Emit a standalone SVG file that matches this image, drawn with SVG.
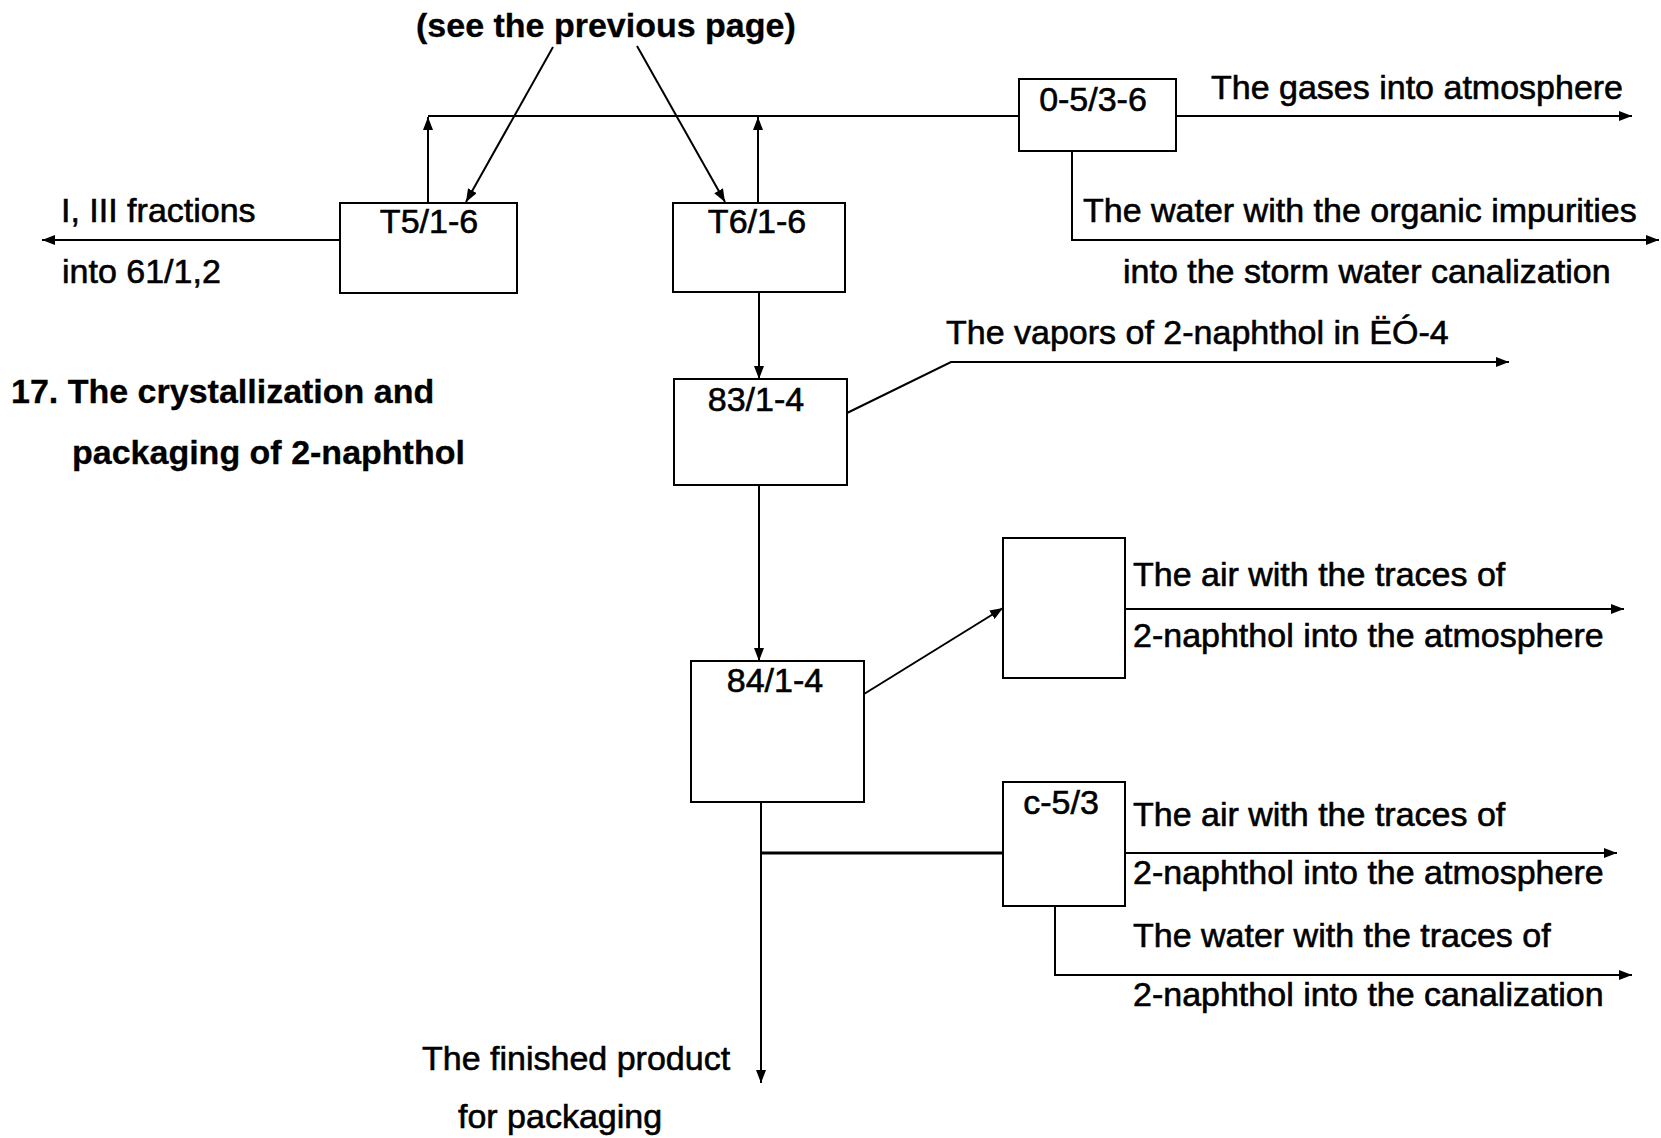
<svg xmlns="http://www.w3.org/2000/svg" width="1661" height="1138" viewBox="0 0 1661 1138">
<style>
text { font-family: "Liberation Sans", Arial, sans-serif; font-size: 34px; fill: #000; stroke: #000; stroke-width: 0.6px; }
.b { font-weight: bold; stroke-width: 0.3px; }
.box { fill: #fff; stroke: #000; stroke-width: 2; }
.ln { fill: none; stroke: #000; stroke-width: 2; }
.lb { text-anchor: middle; }
</style>
<defs>
<marker id="ah" markerUnits="userSpaceOnUse" markerWidth="13" markerHeight="10" refX="13" refY="5" orient="auto">
<path d="M0,0 L13,5 L0,10 z" fill="#000"/>
</marker>
</defs>
<rect width="1661" height="1138" fill="#fff"/>

<g id="connectors">
<path class="ln" d="M428,116 H1019"/>
<path class="ln" d="M428,203 V117" marker-end="url(#ah)"/>
<path class="ln" d="M758,203 V117" marker-end="url(#ah)"/>
<path class="ln" d="M553,47 L466,202" marker-end="url(#ah)"/>
<path class="ln" d="M637,46 L725,202" marker-end="url(#ah)"/>
<path class="ln" d="M340,240 H42" marker-end="url(#ah)"/>
<path class="ln" d="M1176,116 H1632" marker-end="url(#ah)"/>
<path class="ln" d="M1072,151 V240 H1659" marker-end="url(#ah)"/>
<path class="ln" d="M759,292 V379" marker-end="url(#ah)"/>
<path class="ln" d="M847,413 L951,362 H1509" marker-end="url(#ah)"/>
<path class="ln" d="M759,485 V661" marker-end="url(#ah)"/>
<path class="ln" d="M864,694 L1003,608" marker-end="url(#ah)"/>
<path class="ln" d="M1125,609 H1624" marker-end="url(#ah)"/>
<path class="ln" d="M761,802 V1083" marker-end="url(#ah)"/>
<path class="ln" d="M761,853 H1003" style="stroke-width:3"/>
<path class="ln" d="M1125,853 H1617" marker-end="url(#ah)"/>
<path class="ln" d="M1055,906 V975 H1632" marker-end="url(#ah)"/>
</g>

<g id="node-T5">
<rect class="box" x="340" y="203" width="177" height="90"/>
<text class="lb" x="429" y="233">T5/1-6</text>
</g>
<g id="node-T6">
<rect class="box" x="673" y="203" width="172" height="89"/>
<text class="lb" x="757" y="233">T6/1-6</text>
</g>
<g id="node-0-5-3-6">
<rect class="box" x="1019" y="79" width="157" height="72"/>
<text class="lb" x="1093" y="111">0-5/3-6</text>
</g>
<g id="node-83">
<rect class="box" x="674" y="379" width="173" height="106"/>
<text class="lb" x="756" y="411">83/1-4</text>
</g>
<g id="node-84">
<rect class="box" x="691" y="661" width="173" height="141"/>
<text class="lb" x="775" y="692">84/1-4</text>
</g>
<g id="node-empty">
<rect class="box" x="1003" y="538" width="122" height="140"/>
</g>
<g id="node-c-5-3">
<rect class="box" x="1003" y="782" width="122" height="124"/>
<text class="lb" x="1061" y="814">c-5/3</text>
</g>

<g id="labels">
<text class="b" x="416" y="37">(see the previous page)</text>
<text x="61" y="222">I, III fractions</text>
<text x="62" y="283">into 61/1,2</text>
<text class="b" x="11" y="403">17. The crystallization and</text>
<text class="b" x="72" y="464">packaging of 2-naphthol</text>
<text x="1211" y="99">The gases into atmosphere</text>
<text x="1083" y="222">The water with the organic impurities</text>
<text x="1123" y="283">into the storm water canalization</text>
<text x="946" y="344">The vapors of 2-naphthol in ËÓ-4</text>
<text x="1133" y="586">The air with the traces of</text>
<text x="1133" y="647">2-naphthol into the atmosphere</text>
<text x="1133" y="826">The air with the traces of</text>
<text x="1133" y="884">2-naphthol into the atmosphere</text>
<text x="1133" y="947">The water with the traces of</text>
<text x="1133" y="1006">2-naphthol into the canalization</text>
<text x="422" y="1070">The finished product</text>
<text x="458" y="1128">for packaging</text>
</g>
</svg>
